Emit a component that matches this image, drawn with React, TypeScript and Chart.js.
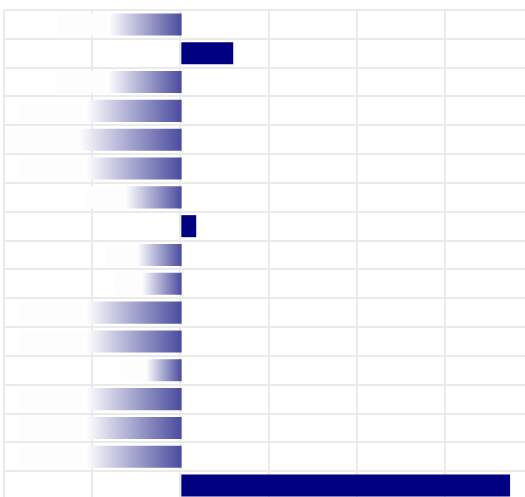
import React, { useEffect, useRef } from "react";
import { Chart, registerables } from "chart.js";

Chart.register(...registerables);

const categories = ["1", "2", "3", "4", "5", "6", "7", "8", "9", "10", "11", "12", "13", "14", "15", "16", "17"];
const values = [-1.39, 0.6, -1.41, -1.83, -1.97, -1.83, -1.07, 0.18, -0.84, -0.75, -1.83, -1.83, -0.67, -1.83, -1.83, -1.83, 3.74];
const axisMin = -2;
const axisMax = 4;

const negValues = values.map((v) => (v < 0 ? v : null));
const posValues = values.map((v) => (v >= 0 ? v : null));

export default function App() {
  const ref = useRef<HTMLCanvasElement | null>(null);

  useEffect(() => {
    if (!ref.current) return;
    const chart = new Chart(ref.current, {
      type: "bar",
      data: {
        labels: categories,
        datasets: [
          {
            data: negValues,
            borderWidth: 0,
            barPercentage: 0.9,
            categoryPercentage: 0.85,
            grouped: false,
            base: 0.015,
            backgroundColor: (ctx: any) => {
              const c = ctx.chart;
              const v = ctx.raw as number;
              const xs = c.scales && c.scales.x;
              if (v == null || !xs || !c.chartArea) return "rgba(0,0,128,0.5)";
              const x0 = xs.getPixelForValue(v);
              const x1 = xs.getPixelForValue(0.015);
              const g = c.ctx.createLinearGradient(x0, 0, x1, 0);
              g.addColorStop(0, "#fdfdfd");
              g.addColorStop(0.39, "#fdfdfd");
              g.addColorStop(0.41, "#ffffff");
              g.addColorStop(1, "rgb(74,76,158)");
              return g;
            },
          },
          {
            data: posValues,
            borderWidth: 0,
            barPercentage: 0.9,
            categoryPercentage: 0.85,
            grouped: false,
            backgroundColor: "#000080",
          },
        ],
      },
      options: {
        indexAxis: "y",
        animation: false,
        responsive: false,
        layout: { padding: { left: 2, top: 2, right: 2, bottom: 2 } },
        plugins: { legend: { display: false }, tooltip: { enabled: false }, title: { display: false } },
        scales: {
          x: {
            min: axisMin,
            max: axisMax,
            ticks: { display: false, stepSize: 1 },
            grid: { drawTicks: false, color: "#eaeaea", lineWidth: 2 },
            border: { display: false },
          },
          y: {
            ticks: { display: false },
            grid: { drawTicks: false, color: "#eaeaea", lineWidth: 2 },
            border: { display: false },
          },
        },
      },
    } as any);
    return () => chart.destroy();
  }, []);

  return (
    <div style={{ position: "fixed", left: 0, top: 0, width: 525, height: 497, overflow: "hidden", background: "#fff" }}>
      <div style={{ position: "absolute", left: 2, top: 8 }}>
        <canvas ref={ref} width={533} height={494} style={{ display: "block", width: 533, height: 494 }} />
      </div>
    </div>
  );
}
